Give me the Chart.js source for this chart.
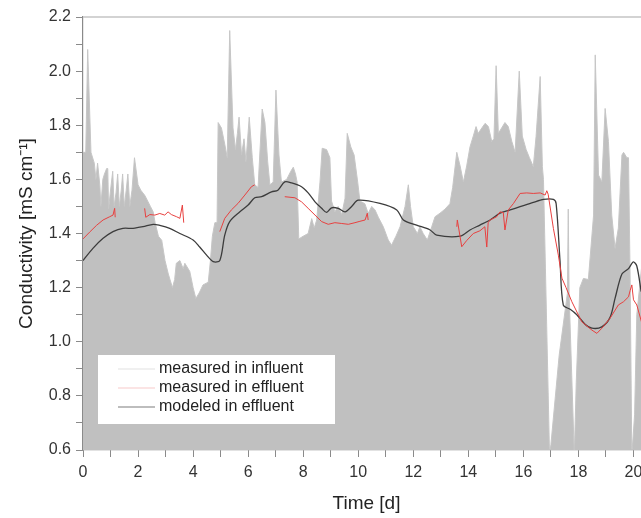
<!DOCTYPE html>
<html>
<head>
<meta charset="utf-8">
<script src="https://cdn.jsdelivr.net/npm/chart.js@4.4.0/dist/chart.umd.min.js"></script>
<style>
  html, body { margin: 0; padding: 0; background: #fff; overflow: hidden; }
</style>
</head>
<body>
<canvas id="condCanvas" width="650" height="518"></canvas>
<script>
// time [d] and conductivity [mS cm-1]
const infDays = [0, 0.10, 0.17, 0.29, 0.41, 0.47, 0.53, 0.61, 0.65, 0.72, 0.78, 0.86, 0.90, 0.93, 0.99,
  1.08, 1.13, 1.20, 1.26, 1.32, 1.39, 1.44, 1.50, 1.57, 1.63, 1.70, 1.78, 1.87, 2.00, 2.10, 2.25, 2.35,
  2.45, 2.55, 2.62, 2.74, 2.86, 2.98, 3.10, 3.25, 3.33, 3.39, 3.52, 3.64, 3.70, 3.88, 4.00, 4.10, 4.22,
  4.36, 4.55, 4.63, 4.70, 4.79, 4.87, 4.91, 5.03, 5.15, 5.24, 5.33, 5.45, 5.54, 5.61, 5.67, 5.76, 5.85,
  5.92, 6.04, 6.15, 6.24, 6.36, 6.51, 6.61, 6.71, 6.79, 6.91, 7.01, 7.12, 7.21, 7.40, 7.55, 7.64, 7.72,
  7.78, 7.84, 8.00, 8.18, 8.31, 8.40, 8.49, 8.61, 8.69, 8.85, 8.97, 9.03, 9.15, 9.27, 9.40, 9.52, 9.60,
  9.73, 9.85, 9.98, 10.06, 10.24, 10.36, 10.49, 10.61, 10.73, 10.91, 11.09, 11.21, 11.37, 11.52, 11.70,
  11.82, 11.90, 12.00, 12.15, 12.24, 12.36, 12.51, 12.67, 12.79, 12.97, 13.15, 13.33, 13.43, 13.58,
  13.70, 13.82, 13.94, 14.06, 14.18, 14.28, 14.36, 14.49, 14.61, 14.73, 14.85, 14.93, 15.01, 15.09,
  15.21, 15.33, 15.45, 15.58, 15.70, 15.85, 15.96, 16.10, 16.22, 16.36, 16.46, 16.61, 16.69, 16.73,
  16.95, 17.00, 17.30, 17.60, 17.63, 17.66, 17.85, 17.92, 18.05, 18.18, 18.36, 18.55, 18.61, 18.73,
  18.85, 18.97, 19.09, 19.21, 19.33, 19.45, 19.58, 19.64, 19.76, 19.82, 19.88, 19.94, 20.04, 20.12, 20.30];
const infValues = [1.70, 1.70, 2.08, 1.70, 1.66, 1.60, 1.66, 1.58, 1.50, 1.60, 1.62, 1.64, 1.64, 1.49, 1.55,
  1.63, 1.50, 1.55, 1.62, 1.50, 1.56, 1.62, 1.50, 1.56, 1.62, 1.50, 1.56, 1.68, 1.58, 1.56, 1.54, 1.52,
  1.50, 1.48, 1.44, 1.39, 1.375, 1.30, 1.25, 1.20, 1.23, 1.29, 1.30, 1.27, 1.29, 1.26, 1.20, 1.16, 1.18,
  1.21, 1.22, 1.30, 1.39, 1.44, 1.44, 1.81, 1.79, 1.73, 1.68, 2.15, 1.79, 1.71, 1.77, 1.83, 1.69, 1.75,
  1.665, 1.83, 1.68, 1.58, 1.57, 1.86, 1.81, 1.665, 1.58, 1.59, 1.93, 1.69, 1.59, 1.60, 1.63, 1.645, 1.62,
  1.59, 1.38, 1.39, 1.40, 1.455, 1.42, 1.45, 1.59, 1.715, 1.71, 1.68, 1.52, 1.48, 1.50, 1.47, 1.53, 1.77,
  1.72, 1.69, 1.59, 1.52, 1.51, 1.475, 1.50, 1.487, 1.46, 1.425, 1.376, 1.357, 1.39, 1.425, 1.50,
  1.58, 1.50, 1.425, 1.40, 1.425, 1.40, 1.376, 1.425, 1.462, 1.475, 1.49, 1.51, 1.57, 1.70,
  1.65, 1.59, 1.65, 1.72, 1.76, 1.795, 1.77, 1.79, 1.807, 1.795, 1.74, 1.75, 2.02, 1.77,
  1.79, 1.81, 1.795, 1.74, 1.70, 2.00, 1.76, 1.71, 1.68, 1.647, 1.758, 1.98, 1.647, 1.60,
  0.58, 0.62, 0.95, 1.18, 1.49, 1.18, 0.58, 0.85, 1.20, 1.234, 1.23, 1.468, 2.06, 1.616,
  1.59, 1.862, 1.74, 1.468, 1.345, 1.42, 1.69, 1.70, 1.68, 1.68, 1.22, 0.58, 0.73, 1.10, 1.28];

const effDays = [0, 0.24, 0.49, 0.73, 0.97, 1.09, 1.15, 1.17, 1.7,
  2.24, 2.28, 2.43, 2.61, 2.79, 2.97, 3.09, 3.21, 3.40, 3.52, 3.61, 3.66, 4.3,
  4.97, 5.15, 5.39, 5.63, 5.88, 6.12, 6.24, 6.8,
  7.33, 7.70, 7.94, 8.18, 8.43, 8.67, 8.91, 9.15, 9.40, 9.64, 9.88, 10.06, 10.25, 10.33, 10.36, 12.0,
  13.58, 13.60, 13.76, 13.94, 14.18, 14.42, 14.60, 14.67, 14.72, 14.79, 15.03, 15.15, 15.27, 15.33,
  15.45, 15.64, 15.88, 16.12, 16.36, 16.61, 16.79, 16.85, 16.90, 17.09, 17.27, 17.40, 17.55, 17.76,
  18.12, 18.49, 18.67, 18.85, 19.15, 19.45, 19.64, 19.82, 19.88, 19.94, 20.00, 20.12, 20.30];
const effValues = [1.38, 1.405, 1.43, 1.45, 1.462, 1.468, 1.493, 1.46, null,
  1.493, 1.46, 1.47, 1.468, 1.474, 1.468, 1.48, 1.47, 1.462, 1.456, 1.505, 1.44, null,
  1.407, 1.456, 1.487, 1.511, 1.542, 1.573, 1.58, null,
  1.536, 1.532, 1.517, 1.493, 1.468, 1.444, 1.434, 1.44, 1.437, 1.434, 1.44, 1.445, 1.45, 1.475, 1.45, null,
  1.425, 1.45, 1.351, 1.374, 1.40, 1.41, 1.425, 1.35, 1.44, 1.45, 1.462, 1.48, 1.477, 1.413,
  1.487, 1.511, 1.548, 1.55, 1.548, 1.55, 1.542, 1.558, 1.545, 1.419, 1.32, 1.235, 1.20, 1.148,
  1.074, 1.043, 1.031, 1.05, 1.087, 1.136, 1.148, 1.166, 1.19, 1.21, 1.155, 1.136, 1.07];

const modDays = [0, 0.36, 0.73, 1.09, 1.45, 1.82, 2.18, 2.55, 2.79, 3.15, 3.52, 4.00, 4.24, 4.49, 4.73,
  4.97, 5.15, 5.33, 5.70, 6.00, 6.24, 6.49, 6.85, 7.08, 7.33, 7.58, 7.94, 8.18, 8.43, 8.67, 8.85, 9.03,
  9.27, 9.52, 9.76, 10.00, 10.79, 11.40, 11.64, 12.12, 12.61, 12.85, 13.70, 14.06, 14.42, 14.79, 15.15,
  15.52, 15.88, 16.36, 16.73, 17.09, 17.19, 17.33, 17.45, 17.70, 17.94, 18.24, 18.49, 18.85, 19.15,
  19.33, 19.58, 19.82, 19.99, 20.12, 20.28];
const modValues = [1.30, 1.345, 1.382, 1.407, 1.419, 1.419, 1.425, 1.434, 1.43, 1.419, 1.40, 1.376, 1.35, 1.32, 1.296,
  1.30, 1.394, 1.444, 1.48, 1.505, 1.532, 1.536, 1.554, 1.56, 1.591, 1.587, 1.573, 1.55, 1.517, 1.493, 1.478, 1.495,
  1.493, 1.48, 1.50, 1.523, 1.511, 1.487, 1.45, 1.431, 1.413, 1.394, 1.39, 1.413, 1.431, 1.45, 1.475,
  1.487, 1.499, 1.515, 1.526, 1.526, 1.51, 1.30, 1.135, 1.12, 1.10, 1.065, 1.05, 1.055, 1.09,
  1.16, 1.25, 1.27, 1.295, 1.28, 1.185];

const fontFamily = 'Arial, "Liberation Sans", Helvetica, sans-serif';
const toPoints = (days, vals) => days.map((d, i) => ({ x: d, y: vals[i] }));

const insetLegend = {
  id: 'insetLegend',
  afterDatasetsDraw(chart) {
    const { ctx, chartArea } = chart;
    const left = chartArea.left + 15, top = chartArea.top + 338;
    ctx.save();
    ctx.fillStyle = '#ffffff';
    ctx.fillRect(left, top, 237, 69);
    ctx.font = '16px ' + fontFamily;
    ctx.textBaseline = 'middle';
    chart.data.datasets.forEach((ds, i) => {
      const y = top + 14 + i * 19;
      ctx.strokeStyle = ds.legendColor;
      ctx.lineWidth = 1.2;
      ctx.beginPath();
      ctx.moveTo(left + 20, y);
      ctx.lineTo(left + 57, y);
      ctx.stroke();
      ctx.fillStyle = '#222';
      ctx.fillText(ds.label, left + 61, y);
    });
    ctx.restore();
  }
};

const topFrame = {
  id: 'topFrame',
  afterDraw(chart) {
    const { ctx, chartArea } = chart;
    ctx.save();
    ctx.strokeStyle = '#c4c4c4';
    ctx.lineWidth = 1.5;
    ctx.beginPath();
    ctx.moveTo(chartArea.left, chartArea.top);
    ctx.lineTo(chartArea.right, chartArea.top);
    ctx.stroke();
    ctx.restore();
  }
};

new Chart(
  document.getElementById('condCanvas'),
  {
    type: 'line',
    plugins: [insetLegend, topFrame],
    data: {
      datasets: [
        {
          label: 'measured in influent',
          data: toPoints(infDays, infValues),
          borderColor: '#c6c6c6',
          backgroundColor: '#c0c0c0',
          legendColor: '#e2e2e2',
          borderWidth: 1,
          fill: 'start',
          pointRadius: 0,
          tension: 0,
          order: 3
        },
        {
          label: 'measured in effluent',
          data: toPoints(effDays, effValues),
          borderColor: '#e8403f',
          legendColor: '#f7c9c9',
          borderWidth: 1,
          fill: false,
          pointRadius: 0,
          tension: 0,
          order: 1
        },
        {
          label: 'modeled in effluent',
          data: toPoints(modDays, modValues),
          borderColor: '#3c3c3c',
          legendColor: '#7c7c7c',
          borderWidth: 1.3,
          fill: false,
          pointRadius: 0,
          tension: 0.3,
          order: 2
        }
      ]
    },
    options: {
      responsive: false,
      animation: false,
      layout: { padding: { top: 17, right: 0, bottom: 0, left: 0 } },
      plugins: {
        legend: { display: false },
        tooltip: { enabled: false }
      },
      scales: {
        x: {
          type: 'linear',
          min: 0,
          max: 20.6,
          afterFit: scale => { scale.height = 68; },
          border: { color: '#8a8a8a', width: 1.2 },
          grid: { drawOnChartArea: false, tickLength: 7, color: '#8a8a8a' },
          ticks: {
            stepSize: 1,
            includeBounds: false,
            autoSkip: false,
            maxRotation: 0,
            padding: 6,
            color: '#333',
            font: { size: 16, family: fontFamily },
            callback: value => (Number.isInteger(value) && value % 2 === 0) ? String(value) : ''
          },
          title: {
            display: true,
            text: 'Time [d]',
            color: '#222',
            font: { size: 19, family: fontFamily },
            padding: { top: 0, bottom: 3 }
          }
        },
        y: {
          min: 0.6,
          max: 2.2,
          afterFit: scale => { scale.width = 83; },
          border: { color: '#8a8a8a', width: 1.2 },
          grid: { drawOnChartArea: false, tickLength: 7, color: '#8a8a8a' },
          ticks: {
            stepSize: 0.1,
            autoSkip: false,
            padding: 5,
            color: '#333',
            font: { size: 16, family: fontFamily },
            callback: value => {
              const t = Math.round(value * 10);
              return t % 2 === 0 ? (t / 10).toFixed(1) : '';
            }
          },
          title: {
            display: true,
            text: 'Conductivity [mS cm⁻¹]',
            color: '#222',
            font: { size: 19, family: fontFamily },
            padding: { top: 15, bottom: 0 }
          }
        }
      }
    }
  }
);
</script>
</body>
</html>
